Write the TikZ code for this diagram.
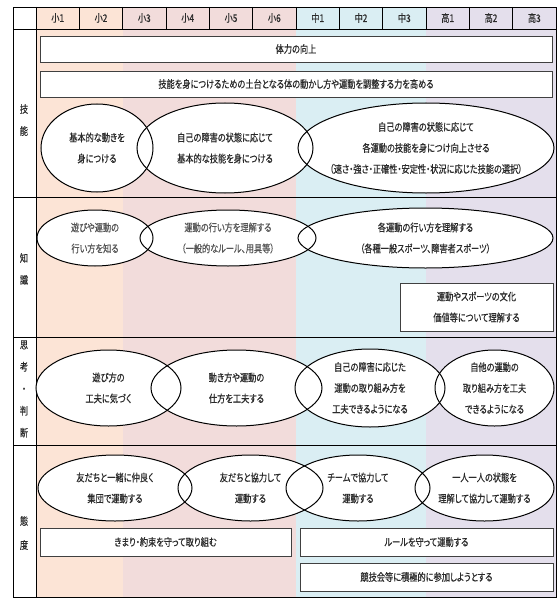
\documentclass[tikz,border=0pt]{standalone}
\usepackage{fontspec}
\newfontfamily\jp[FakeStretch=0.78,FakeBold=0.5,RawFeature={+palt}]{Noto Sans CJK JP}
\usetikzlibrary{shapes.geometric,calc}
\definecolor{cPeach}{HTML}{FCE4D6}
\definecolor{cPink}{HTML}{F2DCDB}
\definecolor{cBlue}{HTML}{DAEEF3}
\definecolor{cLav}{HTML}{E4DFEC}
\definecolor{cTxt}{HTML}{2A2A2A}
\definecolor{cGrayTxt}{HTML}{555555}
\definecolor{cBox}{HTML}{404040}
\begin{document}
\begin{tikzpicture}[x=1pt,y=-1pt,
  every node/.style={font=\jp\fontsize{10.5}{21}\selectfont, text=cTxt, inner sep=0pt, outer sep=0pt},
  oval/.style={ellipse, fill=white},
  ovalline/.style={draw=black, line width=1pt},
  boxnode/.style={draw=cBox, fill=white, line width=0.8pt, anchor=north west},
  txt/.style={align=center},
  gridline/.style={draw=black, line width=0.8pt}]
\useasboundingbox (0,0) rectangle (557,599);
% colour bands
\fill[cPeach] (36,7) rectangle (122.67,597);
\fill[cPink] (122.67,7) rectangle (296,597);
\fill[cBlue] (296,7) rectangle (426,597);
\fill[cLav] (426,7) rectangle (556,597);
% header
\foreach \t [count=\i] in {小1,小2,小3,小4,小5,小6,中1,中2,中3,高1,高2,高3}
  \node (hd\i) at ({36+43.333*(\i-0.5)},18) {\t};
\foreach \i in {1,...,11}
  \draw[gridline] ({36+43.333*\i},7) -- ({36+43.333*\i},29);
\draw[gridline] (13,7) rectangle (556,597);
\draw[gridline] (36,7) -- (36,597);
\draw[gridline] (13,29) -- (556,29);
\draw[gridline] (13,197) -- (556,197);
\draw[gridline] (13,337) -- (556,337);
\draw[gridline] (13,445) -- (556,445);
% row labels
\node[txt, font=\jp\fontsize{10.5}{22}\selectfont] (l1) at (24,120) {技\\能};
\node[txt, font=\jp\fontsize{10.5}{22}\selectfont] (l2) at (24,269) {知\\識};
\node[txt, font=\jp\fontsize{10.5}{22}\selectfont] (l3) at (24,389) {思\\考\\・\\判\\断};
\node[txt, font=\jp\fontsize{10.5}{24}\selectfont] (l4) at (24,533) {態\\度};
% boxes
\node[boxnode, minimum width=512, minimum height=26] (b1) at (40,36) {体力の向上};
\node[boxnode, minimum width=512, minimum height=26] (b2) at (40,71) {技能を身につけるための土台となる体の動かし方や運動を調整する力を高める};
\node[boxnode, minimum width=153, minimum height=48, txt] (b3) at (400,283) {運動やスポーツの文化\\価値等について理解する};
\node[boxnode, minimum width=251, minimum height=28] (b4) at (40,528) {きまり・約束を守って取り組む};
\node[boxnode, minimum width=253, minimum height=28] (b5) at (300,528) {ルールを守って運動する};
\node[boxnode, minimum width=253, minimum height=28] (b6) at (300,563) {競技会等に積極的に参加しようとする};
% ellipses (fills)
\node[oval, minimum width=112, minimum height=88] (e1) at (97,148) {};
\node[oval, minimum width=176, minimum height=90] (e2) at (225,148) {};
\node[oval, minimum width=256, minimum height=90] (e3) at (426,148) {};
\node[oval, minimum width=116, minimum height=56] (f1) at (95,238) {};
\node[oval, minimum width=176, minimum height=56] (f2) at (228,238) {};
\node[oval, minimum width=255, minimum height=60] (f3) at (425.5,238) {};
\node[oval, minimum width=145, minimum height=76] (g1) at (108.5,388) {};
\node[oval, minimum width=171, minimum height=76] (g2) at (236.5,388) {};
\node[oval, minimum width=150, minimum height=78] (g3) at (370,388) {};
\node[oval, minimum width=119, minimum height=76] (g4) at (494.5,388) {};
\node[oval, minimum width=154, minimum height=66] (h1) at (115,488) {};
\node[oval, minimum width=145, minimum height=66] (h2) at (250.5,488) {};
\node[oval, minimum width=144, minimum height=66] (h3) at (358,488) {};
\node[oval, minimum width=139, minimum height=66] (h4) at (484.5,488) {};
% ellipse outlines
\foreach \nm in {e1,e2,e3,f1,f2,f3,g1,g2,g3,g4,h1,h2,h3,h4}
  \draw[ovalline] let \p1=($(\nm.east)-(\nm.center)$), \p2=($(\nm.north)-(\nm.center)$) in
    (\nm.center) ellipse [x radius=\x1, y radius=\y2];
% ellipse texts
\node[txt] (te1) at (e1) {基本的な動きを\\身につける};
\node[txt] (te2) at (e2) {自己の障害の状態に応じて\\基本的な技能を身につける};
\node[txt] (te3) at (e3) {自己の障害の状態に応じて\\各運動の技能を身につけ向上させる\\（速さ・強さ・正確性・安定性・状況に応じた技能の選択）};
\node[txt, text=cGrayTxt] (tf1) at (f1) {遊びや運動の\\行い方を知る};
\node[txt, text=cGrayTxt] (tf2) at (f2) {運動の行い方を理解する\\（一般的なルール、用具等）};
\node[txt] (tf3) at (f3) {各運動の行い方を理解する\\（各種一般スポーツ、障害者スポーツ）};
\node[txt] (tg1) at (g1) {遊び方の\\工夫に気づく};
\node[txt] (tg2) at (g2) {動き方や運動の\\仕方を工夫する};
\node[txt] (tg3) at (g3) {自己の障害に応じた\\運動の取り組み方を\\工夫できるようになる};
\node[txt] (tg4) at (g4) {自他の運動の\\取り組み方を工夫\\できるようになる};
\node[txt] (th1) at (h1) {友だちと一緒に仲良く\\集団で運動する};
\node[txt] (th2) at (h2) {友だちと協力して\\運動する};
\node[txt] (th3) at (h3) {チームで協力して\\運動する};
\node[txt] (th4) at (h4) {一人一人の状態を\\理解して協力して運動する};
\end{tikzpicture}
\end{document}
